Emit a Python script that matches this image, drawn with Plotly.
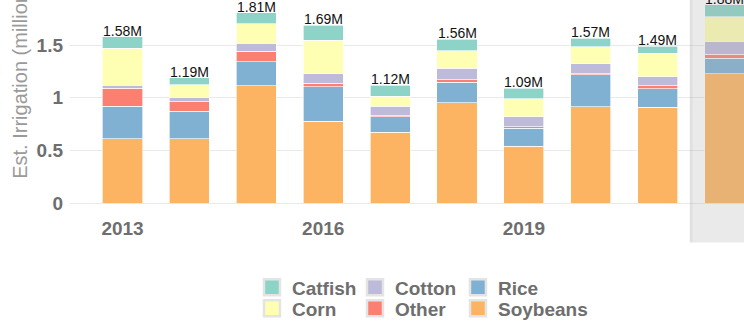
import plotly.graph_objects as go

years = [2013, 2014, 2015, 2016, 2017, 2018, 2019, 2020, 2021, 2022]
soybeans = [0.610, 0.610, 1.117, 0.775, 0.674, 0.953, 0.538, 0.917, 0.912, 1.228]
rice     = [0.310, 0.260, 0.228, 0.329, 0.145, 0.196, 0.174, 0.301, 0.173, 0.149]
other    = [0.170, 0.095, 0.100, 0.036, 0.012, 0.022, 0.015, 0.013, 0.029, 0.038]
cotton   = [0.030, 0.040, 0.073, 0.091, 0.088, 0.111, 0.095, 0.092, 0.085, 0.120]
corn     = [0.350, 0.120, 0.184, 0.317, 0.095, 0.164, 0.167, 0.161, 0.225, 0.237]
catfish  = [0.110, 0.065, 0.107, 0.142, 0.106, 0.111, 0.100, 0.083, 0.066, 0.111]

# stacking order bottom -> top
series = [
    ("Soybeans", soybeans, "#fdb462"),
    ("Rice", rice, "#80b1d3"),
    ("Other", other, "#fb8072"),
    ("Cotton", cotton, "#bebada"),
    ("Corn", corn, "#ffffb3"),
    ("Catfish", catfish, "#8dd3c7"),
]
legend_rows = {"Catfish": "legend", "Cotton": "legend", "Rice": "legend",
               "Corn": "legend2", "Other": "legend2", "Soybeans": "legend2"}
legend_order = ["Catfish", "Cotton", "Rice", "Corn", "Other", "Soybeans"]
last_column = {"Rice", "Soybeans"}
tick_years = [2013, 2016, 2019, 2022]
highlight_year = 2022

FONT = "Liberation Sans, Arial, sans-serif"
GRAY = "#6e6e6e"

fig = go.Figure()
for name, vals, col in series:
    fig.add_trace(go.Bar(
        x=years, y=vals, name=name, width=0.6,
        marker=dict(color=col, line=dict(color="rgba(255,255,255,0.8)", width=0.8)),
        showlegend=False, legendgroup=name,
        hovertemplate=name + " %{x}: %{y:.2f}M<extra></extra>",
    ))

colors = {n: c for n, _, c in series}
for name in legend_order:
    extra = dict(legendwidth=110) if name in last_column else {}
    fig.add_trace(go.Scatter(
        x=[None], y=[None], mode="markers", name=name, legendgroup=name,
        legend=legend_rows[name],
        marker=dict(symbol="square", size=16, color=colors[name],
                    line=dict(color="#e4e4e4", width=2.5)),
        **extra,
    ))

totals = [sum(v) for v in zip(*[s[1] for s in series])]
for yr, tot in zip(years, totals):
    fig.add_annotation(x=yr, y=tot, text=f"{tot:.2f}M", showarrow=False,
                       yanchor="bottom", yshift=-4,
                       font=dict(family=FONT, size=14, color="#111111"))

# y axis title (cropped at top in the reference)
fig.add_annotation(xref="paper", yref="paper", x=-0.074, y=0.11,
                   xanchor="center", yanchor="bottom", textangle=-90,
                   text="Est. Irrigation (million acre-feet)", showarrow=False,
                   font=dict(family=FONT, size=20, color="#9a9a9a"))
# chart subtitle (mostly cropped)
fig.add_annotation(xref="paper", yref="paper", x=0.486, y=1.0,
                   xanchor="center", yanchor="bottom", yshift=-2,
                   text="(million acre-feet)", showarrow=False,
                   font=dict(family=FONT, size=16, color="#444444"))

# highlight panel for latest year
fig.add_shape(type="rect", xref="x", yref="paper",
              x0=highlight_year - 0.52, x1=highlight_year + 1.0, y0=-0.195, y1=1.1,
              fillcolor="rgba(170,170,170,0.25)", line=dict(width=0), layer="above")
fig.add_shape(type="line", xref="x", yref="paper",
              x0=highlight_year - 0.50, x1=highlight_year - 0.50, y0=-0.195, y1=1.1,
              line=dict(color="rgba(0,0,0,0.04)", width=3), layer="above")

legend_common = dict(orientation="h", xanchor="left", yanchor="top",
                     entrywidth=58, bgcolor="rgba(0,0,0,0)",
                     font=dict(family=FONT, size=19, color=GRAY, weight="bold"))

fig.update_layout(
    width=744, height=322,
    margin=dict(l=70, r=0, t=0, b=119, autoexpand=False),
    paper_bgcolor="white", plot_bgcolor="white",
    barmode="stack", bargap=0.4,
    xaxis=dict(range=[2012.215, 2022.29], tickvals=tick_years,
               showgrid=False, zeroline=False, showline=False,
               ticks="", ticklabelstandoff=12,
               tickfont=dict(family=FONT, size=19, color=GRAY, weight="bold")),
    yaxis=dict(range=[0, 1.93], tickvals=[0, 0.5, 1, 1.5], ticktext=["0", "0.5", "1", "1.5"],
               showgrid=True, gridcolor="#e9e9e9", gridwidth=1,
               zeroline=True, zerolinecolor="#e9e9e9", zerolinewidth=1,
               showline=False, ticks="", ticklabelstandoff=6,
               tickfont=dict(family=FONT, size=19, color=GRAY, weight="bold")),
    legend=dict(x=0.27, y=-0.322, **legend_common),
    legend2=dict(x=0.27, y=-0.426, **legend_common),
    showlegend=True,
)

fig.write_html("out.html")
